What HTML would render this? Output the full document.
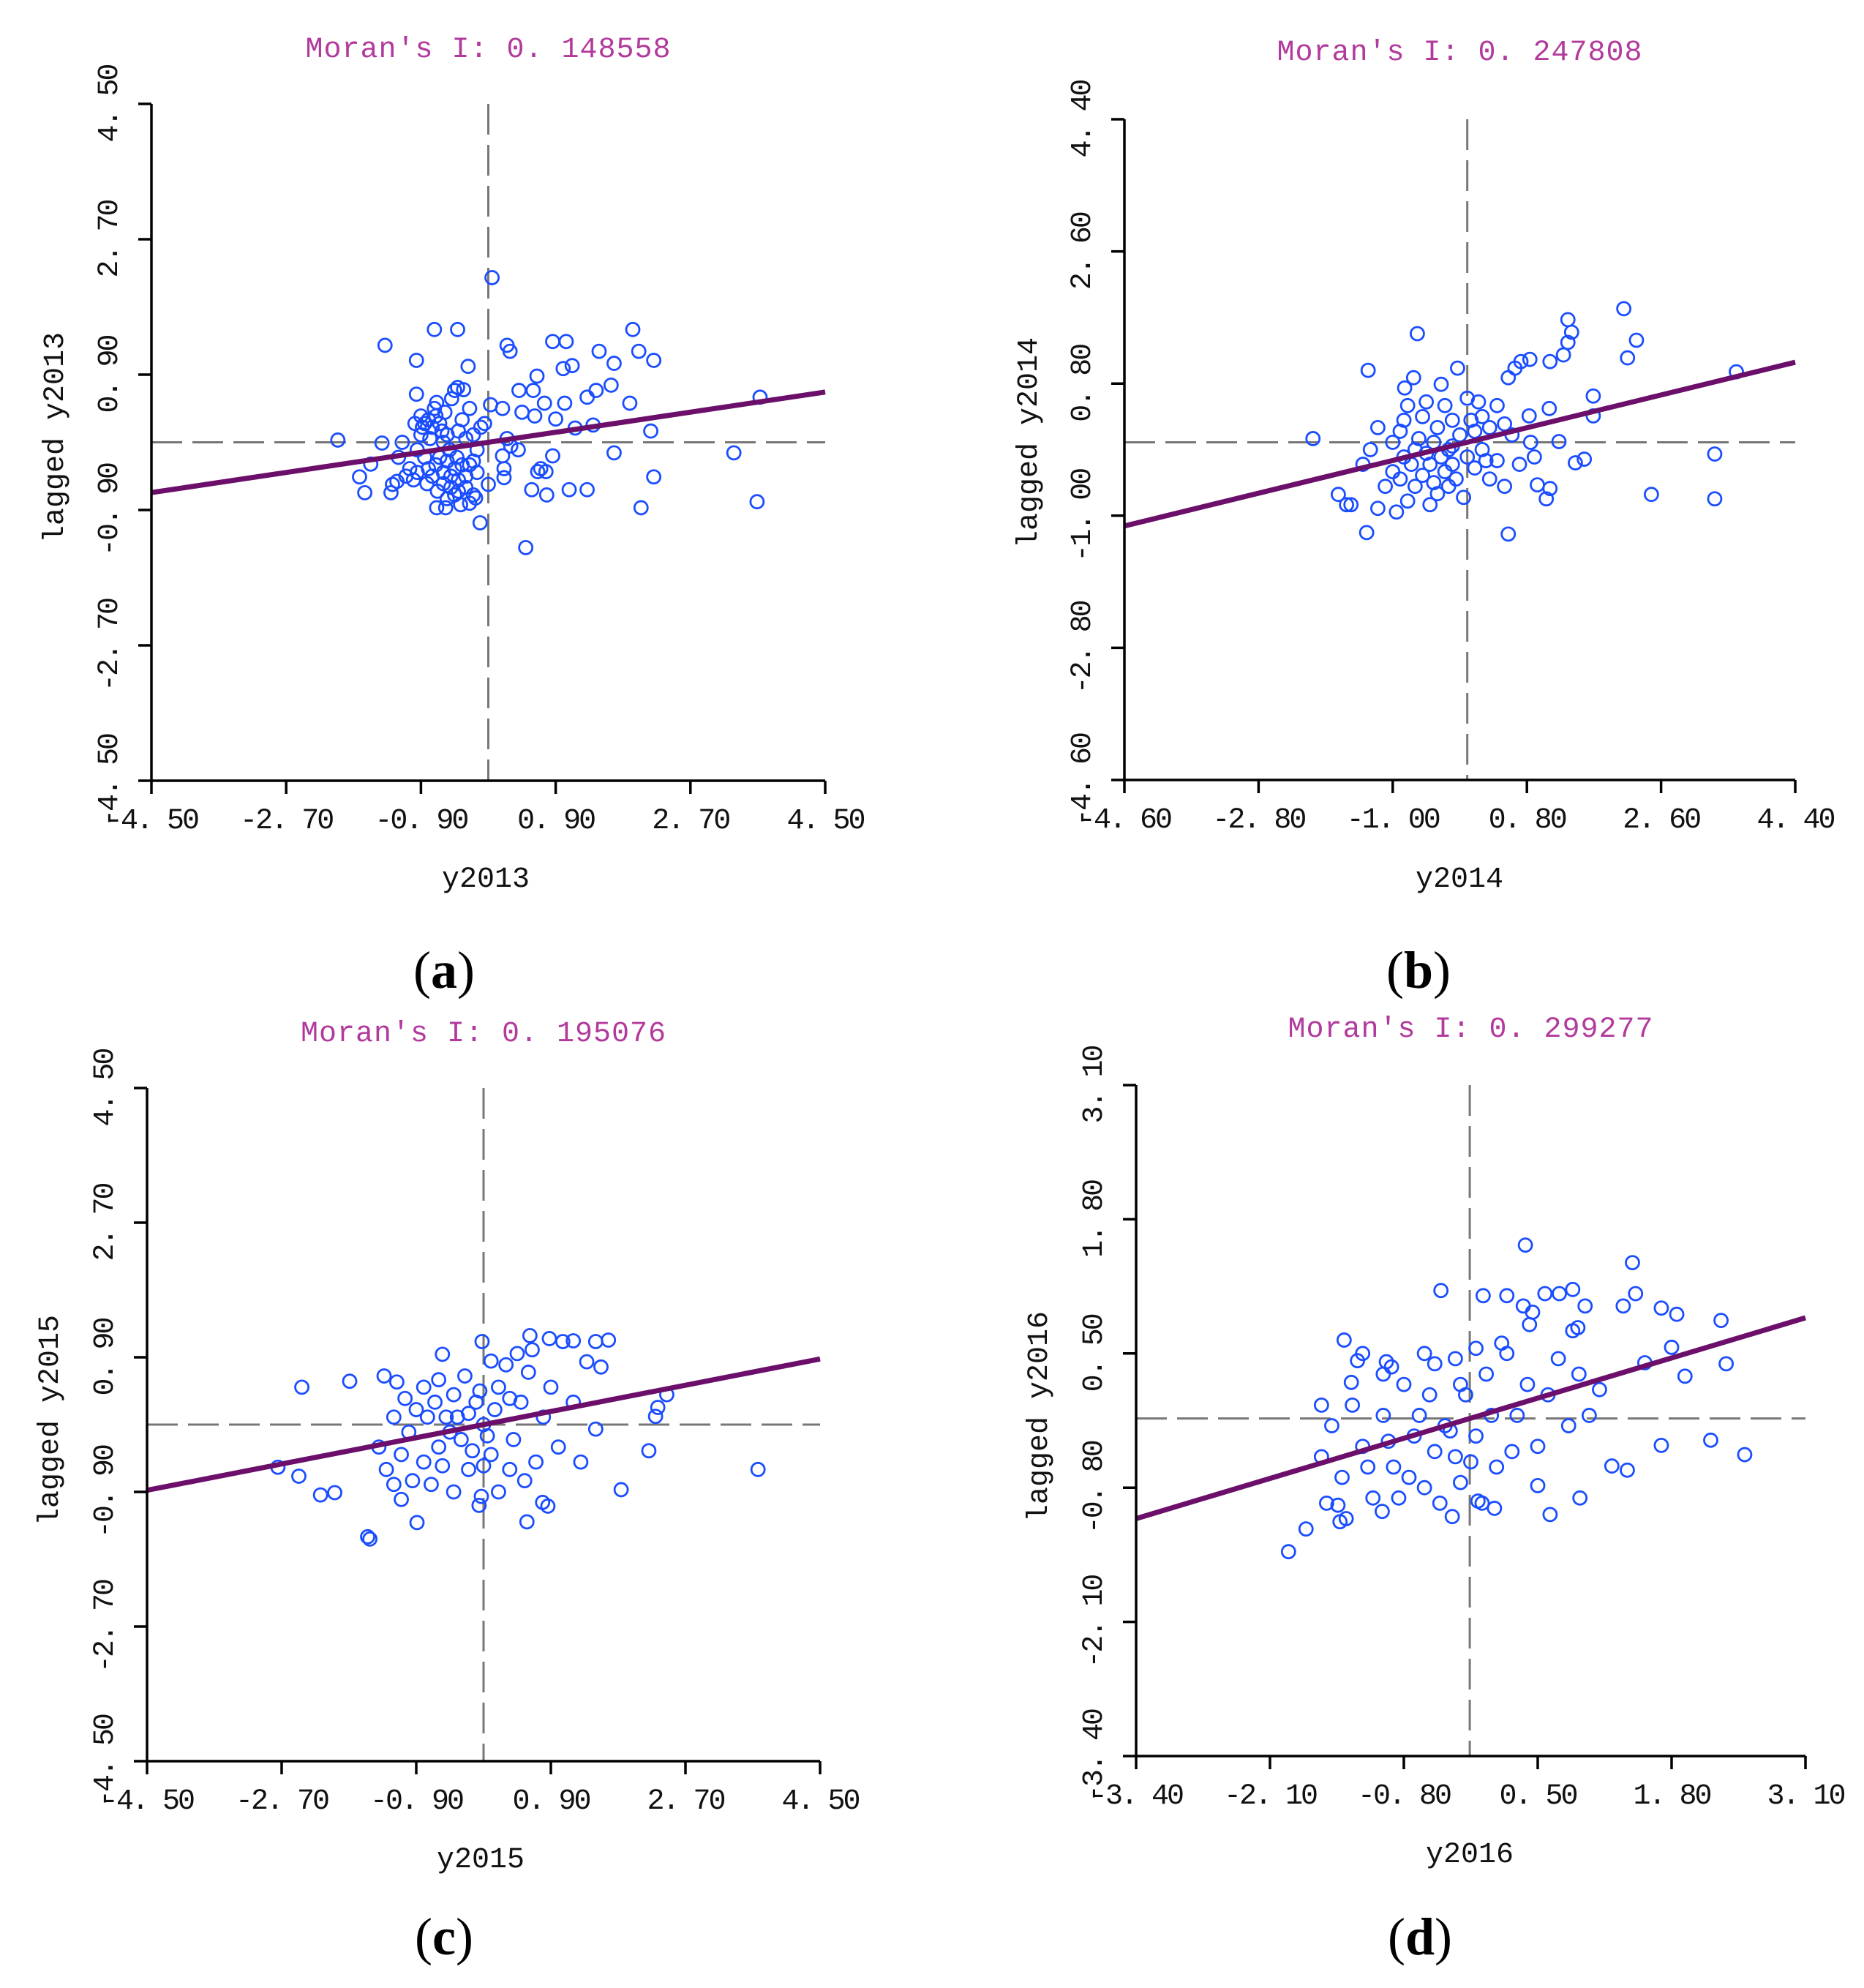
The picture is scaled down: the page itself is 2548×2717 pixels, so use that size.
<!DOCTYPE html>
<html><head><meta charset="utf-8"><style>
html,body{margin:0;padding:0;background:#fff;}
svg{display:block;}
.mono{font-family:"Liberation Mono","DejaVu Sans Mono",monospace;}
.serif{font-family:"Liberation Serif",serif;}
</style></head><body>
<svg id="fig" width="2548" height="2717" viewBox="0 0 2548 2717" xmlns="http://www.w3.org/2000/svg"></svg>
<script>
// ---- data ----
const moranValues = [0.148558, 0.247808, 0.195076, 0.299277];
const yearLabels = ["y2013","y2014","y2015","y2016"];
const subLabels = ["a","b","c","d"];
const tickLabelsA = ["-4. 50","-2. 70","-0. 90","0. 90","2. 70","4. 50"];
const tickLabelsB = ["-4. 60","-2. 80","-1. 00","0. 80","2. 60","4. 40"];
const tickLabelsC = ["-4. 50","-2. 70","-0. 90","0. 90","2. 70","4. 50"];
const tickLabelsD = ["-3. 40","-2. 10","-0. 80","0. 50","1. 80","3. 10"];
const meanX = [0, 0, 0, -0.16];
const meanY = [0, 0, 0, -0.13];
const pointsA = [[0.05,2.19],[-0.72,1.5],[-0.41,1.5],[-1.38,1.29],[-0.96,1.09],[-0.27,1.01],[0.25,1.29],[0.29,1.21],[0.86,1.34],[1.04,1.34],[1.0,0.98],[1.12,1.02],[1.48,1.21],[1.68,1.05],[1.93,1.5],[2.01,1.21],[2.21,1.09],[0.65,0.88],[0.41,0.69],[0.6,0.69],[1.64,0.76],[1.44,0.69],[1.32,0.6],[1.89,0.52],[1.02,0.52],[0.75,0.52],[0.9,0.31],[0.45,0.4],[0.62,0.35],[0.19,0.45],[0.03,0.5],[1.16,0.19],[1.4,0.23],[2.17,0.15],[1.68,-0.14],[3.28,-0.14],[3.63,0.6],[2.21,-0.46],[2.04,-0.87],[3.59,-0.79],[1.08,-0.63],[1.32,-0.63],[0.78,-0.7],[0.58,-0.63],[0.66,-0.39],[0.77,-0.39],[0.7,-0.35],[0.5,-1.4],[-0.11,-1.07],[-0.17,-0.74],[-0.25,-0.81],[-0.37,-0.83],[-0.69,-0.87],[-0.57,-0.87],[0.86,-0.18],[0.19,-0.18],[0.21,-0.35],[0.21,-0.47],[0,-0.56],[-2.01,0.03],[-1.42,-0.01],[-1.57,-0.29],[-1.72,-0.46],[-1.65,-0.67],[-1.28,-0.56],[-1.3,-0.67],[-1.22,-0.52],[-0.96,0.64],[-0.69,0.53],[-0.49,0.58],[-0.41,0.73],[-0.33,0.7],[-0.45,0.69],[-0.9,0.35],[-0.85,0.25],[-0.8,0.3],[-0.75,0.2],[-0.7,0.35],[-0.65,0.25],[-0.9,0.1],[-0.95,-0.1],[-0.85,-0.2],[-0.8,-0.35],[-0.75,-0.45],[-0.7,-0.3],[-0.6,-0.4],[-0.55,-0.25],[-0.5,-0.45],[-0.45,-0.35],[-0.4,-0.5],[-0.35,-0.3],[-0.3,-0.45],[-0.25,-0.3],[-0.2,-0.25],[-0.15,-0.4],[-0.5,-0.6],[-0.45,-0.7],[-0.4,-0.65],[-0.6,-0.55],[-0.65,-0.2],[-1.05,-0.35],[-1.1,-0.45],[-1.0,-0.5],[-0.95,-0.4],[-0.3,0.05],[-0.2,0.1],[-0.1,0.2],[-0.05,0.25],[-0.4,0.15],[-0.55,0.1],[-0.35,0.3],[-0.25,0.45],[-0.6,0.0],[-0.15,-0.1],[0.3,-0.05],[0.25,0.05],[0.4,-0.1],[-1.15,0.0],[-1.2,-0.2],[-0.3,-0.6],[-0.2,-0.7],[-0.55,-0.75],[-0.88,0.2],[-0.78,0.05],[-0.62,0.15],[-0.52,-0.1],[-0.42,-0.2],[-0.82,-0.55],[-0.68,-0.65],[-0.98,0.25],[-0.72,0.45],[-0.58,0.4]];
const pointsB = [[2.1,1.82],[2.27,1.39],[2.15,1.15],[1.35,1.67],[1.4,1.5],[1.35,1.36],[1.29,1.19],[1.11,1.1],[0.84,1.13],[0.72,1.1],[0.64,1.01],[0.55,0.88],[1.69,0.63],[1.69,0.36],[1.1,0.46],[0.83,0.36],[1.23,0.01],[-0.67,1.48],[-1.33,0.98],[-0.72,0.88],[-0.84,0.74],[-0.35,0.79],[-0.13,1.01],[-2.07,0.05],[3.61,0.96],[3.32,-0.16],[3.32,-0.77],[2.47,-0.71],[1.45,-0.28],[1.57,-0.23],[0.94,-0.58],[1.06,-0.77],[1.11,-0.63],[0.55,-1.25],[-1.35,-1.23],[-1.73,-0.71],[-1.62,-0.85],[-1.56,-0.85],[-1.2,-0.9],[-0.95,-0.95],[-0.8,-0.8],[-1.1,-0.6],[-1.0,-0.4],[-0.9,-0.5],[-0.85,-0.2],[-0.75,-0.3],[-0.7,-0.6],[-0.6,-0.45],[-0.55,-0.15],[-0.5,-0.3],[-0.45,-0.55],[-0.4,-0.7],[-0.35,-0.2],[-0.3,-0.4],[-0.25,-0.1],[-0.2,-0.3],[-0.15,-0.5],[-0.1,0.1],[0.0,-0.2],[0.1,-0.35],[0.2,-0.1],[0.3,-0.5],[0.4,-0.25],[0.5,-0.6],[0.3,0.2],[0.2,0.35],[0.4,0.5],[0.5,0.25],[0.6,0.1],[0.15,0.55],[-0.2,0.3],[-0.4,0.2],[-0.6,0.35],[-0.8,0.5],[-0.9,0.15],[-1.2,0.2],[-1.3,-0.1],[-1.4,-0.3],[-1.0,0.0],[-0.65,0.05],[-0.3,0.5],[0.0,0.6],[-0.05,-0.75],[0.7,-0.3],[0.85,0.0],[0.9,-0.2],[-0.5,-0.85],[0.1,0.15],[-0.7,-0.1],[-0.45,0.0],[-0.2,-0.05],[0.05,0.3],[0.25,-0.25],[-0.85,0.3],[-0.55,0.55],[-0.25,-0.6]];
const pointsC = [[-2.43,0.5],[-1.79,0.58],[-2.75,-0.57],[-2.47,-0.69],[-2.18,-0.94],[-1.99,-0.91],[-1.55,-1.5],[-1.52,-1.53],[-0.89,-1.31],[-1.33,0.65],[-1.16,0.57],[-0.55,0.94],[-0.02,1.11],[0.62,1.19],[0.88,1.15],[1.06,1.11],[1.2,1.12],[0.58,-1.3],[0.79,-1.04],[0.86,-1.09],[1.84,-0.87],[2.21,-0.35],[3.67,-0.6],[2.45,0.4],[2.33,0.23],[2.3,0.11],[1.5,-0.06],[1.38,0.84],[1.5,1.11],[1.67,1.13],[1.57,0.77],[-0.06,-1.08],[-0.03,-0.96],[-1.4,-0.3],[-1.3,-0.6],[-1.2,-0.8],[-1.1,-0.4],[-1.0,-0.1],[-0.9,0.2],[-0.8,-0.5],[-0.7,-0.8],[-0.6,-0.3],[-0.5,0.1],[-0.4,0.4],[-0.3,-0.2],[-0.2,-0.6],[-0.1,0.3],[0.0,0.0],[0.1,-0.4],[0.2,0.5],[0.3,0.8],[0.4,-0.2],[0.5,0.3],[0.6,0.7],[0.7,-0.5],[0.8,0.1],[0.9,0.5],[1.0,-0.3],[0.2,-0.9],[-0.4,-0.9],[-0.8,0.5],[-1.2,0.1],[-0.65,0.3],[-0.25,0.65],[0.1,0.85],[0.45,0.95],[0.65,1.0],[-0.15,-0.35],[0.35,-0.6],[-0.55,-0.55],[-0.95,-0.75],[-1.1,-1.0],[0.55,-0.75],[1.2,0.3],[1.3,-0.5],[-0.05,0.45],[-0.35,0.1],[0.05,-0.15],[-0.75,0.1],[-0.45,-0.1],[-0.2,0.15],[0.15,0.2],[0.35,0.35],[-1.05,0.35],[-0.6,0.6],[0.0,-0.55]];
const pointsD = [[-1.92,-1.42],[-1.75,-1.2],[0.38,1.55],[0.2,1.06],[0.36,0.96],[-0.03,1.06],[-0.44,1.11],[1.42,1.38],[0.84,1.12],[0.71,1.08],[0.45,0.9],[0.42,0.78],[0.57,1.08],[0.96,0.96],[0.89,0.75],[0.84,0.72],[1.33,0.96],[1.45,1.08],[1.7,0.94],[1.85,0.88],[2.28,0.82],[1.8,0.56],[1.54,0.41],[1.93,0.28],[2.33,0.4],[2.18,-0.34],[2.51,-0.48],[1.7,-0.39],[1.37,-0.63],[1.22,-0.59],[0.91,-0.9],[0.62,-1.06],[0.5,-0.78],[-0.33,-1.08],[-0.08,-0.93],[0.08,-1.0],[-0.04,-0.95],[-1.38,0.63],[-1.25,0.43],[-1.31,0.22],[-0.97,0.42],[-0.92,0.37],[-1.44,-0.97],[-1.42,-1.13],[-1.36,-1.1],[-1.01,-1.03],[-1.6,-0.5],[-1.5,-0.2],[-1.4,-0.7],[-1.3,0.0],[-1.2,-0.4],[-1.1,-0.9],[-1.0,-0.1],[-0.9,-0.6],[-0.8,0.2],[-0.7,-0.3],[-0.6,-0.8],[-0.5,0.4],[-0.4,-0.2],[-0.3,-0.5],[-0.2,0.1],[-0.1,-0.3],[0.0,0.3],[0.1,-0.6],[0.2,0.5],[0.3,-0.1],[0.4,0.2],[0.5,-0.4],[0.6,0.1],[0.7,0.45],[0.8,-0.2],[0.9,0.3],[1.0,-0.1],[1.1,0.15],[-0.6,0.5],[-0.3,0.45],[-0.1,0.55],[0.15,0.6],[-0.85,-0.9],[-0.45,-0.95],[-1.55,-0.95],[-0.75,-0.7],[-0.25,-0.75],[0.25,-0.45],[-1.0,0.3],[-0.5,-0.45],[0.05,-0.1],[-1.2,0.5],[-1.6,0.0],[-0.95,-0.35],[-0.65,-0.1],[-0.35,-0.25],[-0.15,-0.55],[-1.15,-0.6],[-0.55,0.1],[-0.25,0.2]];

// ---- layout ----
const panels = [
 {key:"a",pts:pointsA,ticks:tickLabelsA,min:-4.5,max:4.5,L:207,R:1128,T:142,B:1067,titleY:78,xt:[664,1200],yt:[73,598],sub:[607,1350]},
 {key:"b",pts:pointsB,ticks:tickLabelsB,min:-4.6,max:4.4,L:1537,R:2454,T:163,B:1066,titleY:82,xt:[1995,1200],yt:[1404,605],sub:[1939,1350]},
 {key:"c",pts:pointsC,ticks:tickLabelsC,min:-4.5,max:4.5,L:201,R:1121,T:1487,B:2407,titleY:1423,xt:[657,2540],yt:[66,1941],sub:[607,2671]},
 {key:"d",pts:pointsD,ticks:tickLabelsD,min:-3.4,max:3.1,L:1553,R:2468,T:1483,B:2400,titleY:1417,xt:[2009,2533],yt:[1418,1936],sub:[1941,2671]}
];
const NS="http://www.w3.org/2000/svg";
const svg=document.getElementById("fig");
function mk(tag,attrs,parent){const e=document.createElementNS(NS,tag);for(const k in attrs)e.setAttribute(k,attrs[k]);(parent||svg).appendChild(e);return e;}

panels.forEach((p,i)=>{
  const g=mk("g",{});
  
  
  const sx=v=>p.L+(v-p.min)/(p.max-p.min)*(p.R-p.L);
  const sy=v=>p.B-(v-p.min)/(p.max-p.min)*(p.B-p.T);
  const t=mk("text",{class:"mono",x:(p.L+p.R)/2,y:p.titleY,"text-anchor":"middle","font-size":"40",fill:"#b23a9c","letter-spacing":"1"},g);
  t.textContent="Moran's I: "+moranValues[i].toFixed(6).replace(".",". ");
  
  
  const vx=mk("line",{x1:sx(meanX[i]),x2:sx(meanX[i]),y1:p.T,y2:p.B,stroke:"#777","stroke-width":3,"stroke-dasharray":"42 14"},g);
  
  
  const hy=mk("line",{x1:p.L,x2:p.R,y1:sy(meanY[i]),y2:sy(meanY[i]),stroke:"#777","stroke-width":3,"stroke-dasharray":"42 14"},g);
  
  
  p.pts.forEach(d=>{
    const c=mk("circle",{cx:sx(d[0]),cy:sy(d[1]),r:9,fill:"none",stroke:"#1a4dff","stroke-width":2.8},g);
    
    
  });
  const s=moranValues[i];
  const ya=meanY[i]+s*(p.min-meanX[i]), yb=meanY[i]+s*(p.max-meanX[i]);
  const rl=mk("line",{x1:p.L,y1:sy(ya),x2:p.R,y2:sy(yb),stroke:"#6b0f6b","stroke-width":7},g);
  
  
  const ax=mk("path",{d:`M${p.L} ${p.T} V${p.B} H${p.R}`,fill:"none",stroke:"#000","stroke-width":3.5},g);
  
  
  const n=p.ticks.length-1;
  p.ticks.forEach((lab,k)=>{
    const X=p.L+k*(p.R-p.L)/n, Y=p.B-k*(p.B-p.T)/n;
    const tk=mk("line",{x1:X,x2:X,y1:p.B,y2:p.B+18,stroke:"#000","stroke-width":3.5},g);
    
    
    const tl=mk("text",{class:"mono",x:X,y:p.B+65,"text-anchor":"middle","font-size":"40",fill:"#111","letter-spacing":"-3"},g);
    tl.textContent=lab;
    
    
    const ty=mk("line",{x1:p.L-18,x2:p.L,y1:Y,y2:Y,stroke:"#000","stroke-width":3.5},g);
    
    
    const yl=mk("text",{class:"mono",x:0,y:0,"text-anchor":"middle","font-size":"40",fill:"#111","letter-spacing":"-3",transform:`translate(${p.L-47},${Y}) rotate(-90)`},g);
    yl.textContent=lab;
    
    
  });
  const xt=mk("text",{class:"mono",x:p.xt[0],y:p.xt[1]+12,"text-anchor":"middle","font-size":"40",fill:"#111"},g);
  xt.textContent=yearLabels[i];
  
  
  const yt=mk("text",{class:"mono",x:0,y:0,"text-anchor":"middle","font-size":"40",fill:"#111",transform:`translate(${p.yt[0]+13},${p.yt[1]}) rotate(-90)`},g);
  yt.textContent="lagged "+yearLabels[i];
  
  
  const sl=mk("text",{class:"serif",x:p.sub[0],y:p.sub[1],"text-anchor":"middle","font-size":"72",fill:"#000"},g);
  const a1=mk("tspan",{},sl);a1.textContent="(";
  const a2=mk("tspan",{"font-weight":"bold"},sl);a2.textContent=subLabels[i];
  const a3=mk("tspan",{},sl);a3.textContent=")";
  
  
});
</script>
</body></html>
